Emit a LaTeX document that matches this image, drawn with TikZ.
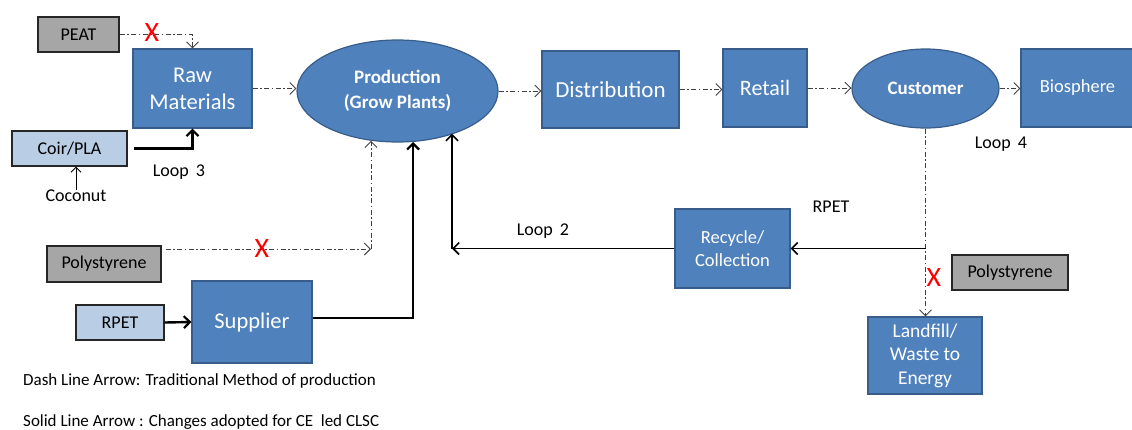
\documentclass[tikz,border=0pt]{standalone}
\usepackage{fontspec}
\setmainfont{Carlito}
\usetikzlibrary{arrows.meta,shapes.geometric}
\definecolor{boxblue}{HTML}{4F81BD}
\definecolor{boxedge}{HTML}{385D8A}
\definecolor{lightblue}{HTML}{B9CDE5}
\definecolor{greybox}{HTML}{A6A6A6}
\tikzset{
  bluebox/.style={draw=boxedge, fill=boxblue, line width=1.2pt, text=white, align=center, inner sep=0pt},
  blueell/.style={ellipse, draw=boxedge, fill=boxblue, line width=1.2pt, text=white, align=center, inner sep=0pt},
  lightbox/.style={draw=black!85, fill=lightblue, line width=1.1pt, text=black, inner sep=0pt, font=\fontsize{18}{20}\selectfont},
  greyb/.style={draw=black!85, fill=greybox, line width=1.1pt, text=black, inner sep=0pt, font=\fontsize{18}{20}\selectfont},
  lbl/.style={inner sep=0pt, text=black, font=\fontsize{18}{20}\selectfont},
  legend/.style={inner sep=0pt, anchor=west, text=black, font=\fontsize{17}{20}\selectfont},
  redx/.style={inner sep=0pt, text=red, font=\fontsize{28}{28}\selectfont},
  dd/.style={draw=black!75, line width=0.9pt, dash pattern=on 5pt off 2.5pt on 1.5pt off 2.5pt},
  ddarrow/.style={dd, -{Straight Barb[length=6pt,width=12pt,line width=0.9pt]}},
  solarrow/.style={draw=black, line width=2.4pt, -{Straight Barb[length=6pt,width=12pt,line width=2.2pt]}},
  medarrow/.style={draw=black, line width=1.8pt, -{Straight Barb[length=6pt,width=12pt,line width=1.6pt]}},
  thinarrow/.style={draw=black, line width=1pt, -{Straight Barb[length=5pt,width=10pt]}},
}
\begin{document}
\begin{tikzpicture}[x=1pt,y=-1pt]
\useasboundingbox (0,0) rectangle (1132,429);
% nodes
\node[greyb, minimum width=81pt, minimum height=35pt] (peat) at (78.5,34.5) {PEAT};
\node[bluebox, minimum width=119pt, minimum height=79pt, font=\fontsize{22.5}{27}\selectfont] (raw) at (192.5,88.5) {Raw\\Materials};
\node[lightbox, minimum width=115pt, minimum height=35pt] (coir) at (69.5,148.5) {Coir/PLA};
\node[lbl] (coco) at (76,196) {Coconut};
\node[lbl] (loop3) at (179,172) {Loop\, 3};
\node[blueell, minimum width=201pt, minimum height=102pt, font=\bfseries\fontsize{19}{25}\selectfont] (prod) at (397.5,91) {Production\\(Grow Plants)};
\node[bluebox, minimum width=137pt, minimum height=77pt, font=\fontsize{23}{25}\selectfont] (dist) at (610.5,89.5) {Distribution};
\node[bluebox, minimum width=84pt, minimum height=78pt, font=\fontsize{22}{25}\selectfont] (retail) at (765,88) {Retail};
\node[blueell, minimum width=147pt, minimum height=79pt, font=\bfseries\fontsize{19}{20}\selectfont] (cust) at (925.5,88.5) {Customer};
\node[bluebox, minimum width=113pt, minimum height=78pt, font=\fontsize{18.5}{20}\selectfont] (bio) at (1077.5,88) {Biosphere};
\node[lbl] (loop4) at (1001,144) {Loop\, 4};
\node[bluebox, minimum width=114pt, minimum height=77pt, font=\fontsize{19.5}{23.5}\selectfont] (land) at (925,355.5) {Landfill/\\Waste to\\Energy};
\node[greyb, minimum width=116pt, minimum height=35pt] (poly2) at (1010,272.5) {Polystyrene};
\node[bluebox, minimum width=115pt, minimum height=79pt, font=\fontsize{18.5}{23.5}\selectfont] (recy) at (732.5,248.5) {Recycle/\\Collection};
\node[lbl] (rpetlbl) at (831,207) {RPET};
\node[lbl] (loop2) at (543,231) {Loop\, 2};
\node[bluebox, minimum width=120pt, minimum height=82pt, font=\fontsize{22.5}{25}\selectfont] (sup) at (252,322) {Supplier};
\node[lightbox, minimum width=88pt, minimum height=35pt] (rpet) at (120,322.5) {RPET};
\node[greyb, minimum width=114pt, minimum height=36pt] (poly1) at (104,264) {Polystyrene};
\node[legend] (leg1) at (23,381) {Dash Line Arrow: Traditional Method of production};
\node[legend] (leg2) at (23,422) {Solid Line Arrow : Changes adopted for CE\ \ led CLSC};
% helper coordinates
\coordinate (cpoly) at (371,249);
\coordinate (cloop2) at (452,248.5);
\coordinate (crpet) at (cust.south |- recy.east);
% dash-dot connectors (traditional)
\draw[ddarrow] (peat.east) -| (raw.north);
\draw[ddarrow] (raw.east) -- (raw.east -| prod.west);
\draw[ddarrow] (prod.east) -- (prod.east -| dist.west);
\draw[ddarrow] (dist.east) -- (dist.east -| retail.west);
\draw[ddarrow] (retail.east) -- (retail.east -| cust.west);
\draw[ddarrow] (cust.east) -- (cust.east -| bio.west);
\draw[ddarrow] ([xshift=4pt,yshift=15pt]poly1.east) -- (cpoly);
\draw[ddarrow] (cpoly) -- (cpoly |- prod.-117.9);
\draw[ddarrow] (cust.south) -- (cust.south |- land.north);
% solid connectors (CE changes)
\draw[solarrow] ([xshift=6pt]coir.east) -| (raw.south);
\draw[solarrow] (rpet.east) -- (sup.west);
\draw[solarrow] ([yshift=4pt]sup.east) -| (prod.-73.4);
\draw[medarrow] (recy.west) -- (cloop2);
\draw[medarrow] (cloop2) -- (cloop2 |- prod.-37.8);
\draw[medarrow] (crpet) -- (recy.east);
\draw[thinarrow] (coco.north) -- (coco.north |- coir.south);
% red crosses
\node[redx] (x1) at (152,33) {X};
\node[redx] (x2) at (262,249) {X};
\node[redx] (x3) at (934,278) {X};
\end{tikzpicture}
\end{document}
